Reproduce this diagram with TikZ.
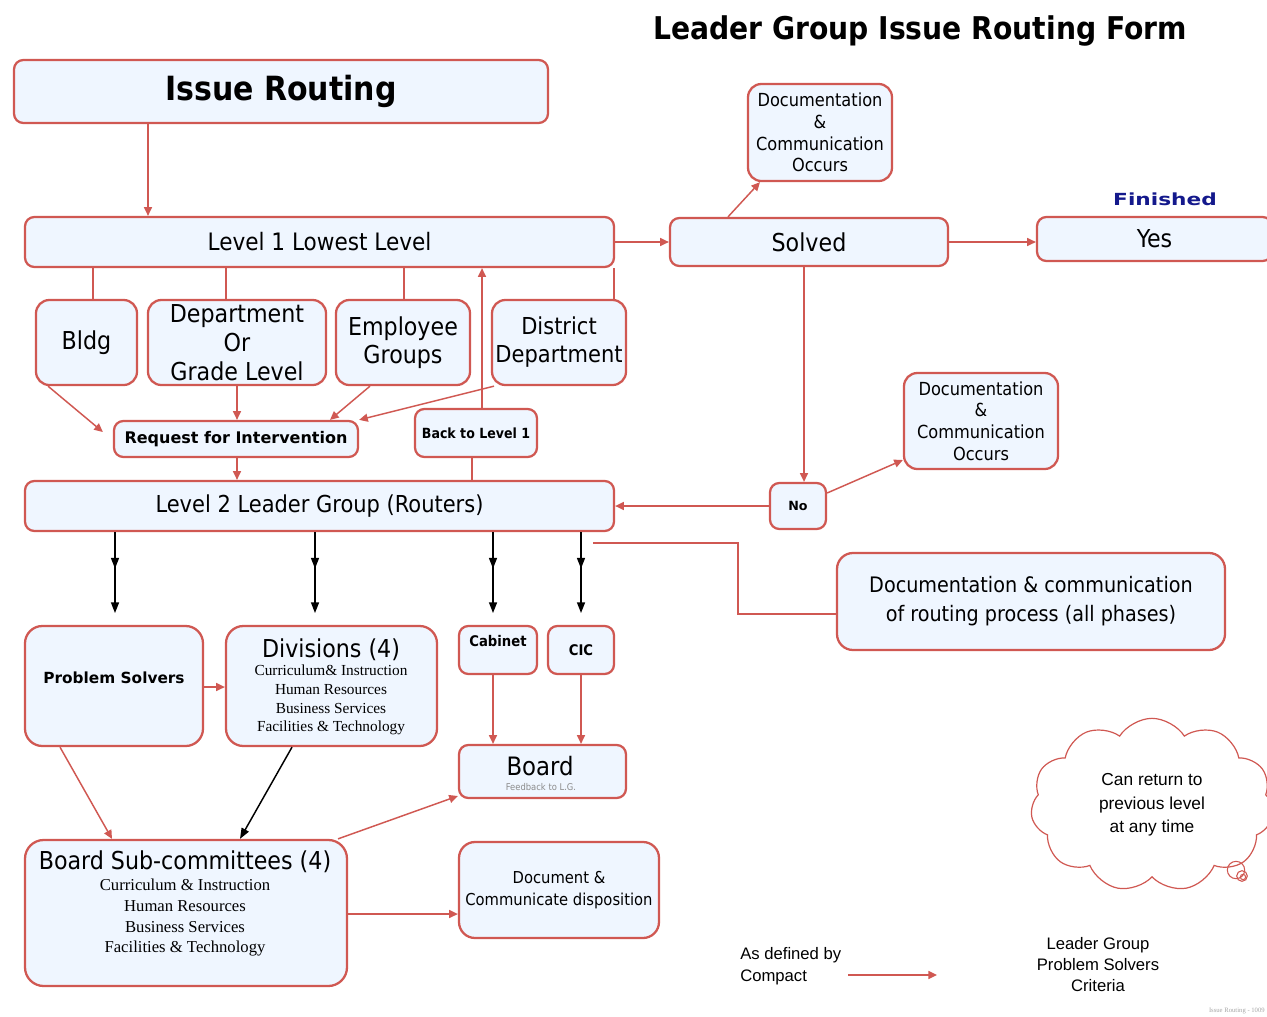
\documentclass[tikz,border=0pt]{standalone}
\usepackage{fontspec}
\usepackage{graphicx}
\usetikzlibrary{arrows.meta,shapes.symbols,decorations.markings,calc}
\setmainfont{DejaVu Sans Condensed}
\newfontfamily\dvs{DejaVu Sans}
\newfontfamily\lsans{Liberation Sans}
\newfontfamily\lserif{Liberation Serif}
\newcommand\fsz[2]{\fontsize{#1}{#2}\selectfont}
% \bx[options]{name}{x1}{y1}{x2}{y2}{text}
\newcommand\bx[7][]{\node[box,#1,minimum width={(#5-#3)*0.75pt},minimum height={(#6-#4)*0.75pt}] (#2) at ({(#3+#5)/2},{(#4+#6)/2}) {#7};}
\definecolor{bred}{RGB}{208,88,82}
\definecolor{bfill}{RGB}{239,246,255}
\definecolor{fin}{RGB}{20,25,140}
\begin{document}
\begin{tikzpicture}[x=0.75pt,y=-0.75pt,
 box/.style={draw=bred, fill=bfill, line width=1.7pt, rounded corners=7pt, inner sep=0pt, align=center},
 txt/.style={inner sep=0pt, align=center},
 con/.style={draw=bred, line width=1.1pt, -{Triangle[length=6.5pt,width=6pt]}},
 lnk/.style={draw=bred, line width=1.1pt},
 blk/.style={draw=black, line width=1.1pt, -{Triangle[length=8pt,width=6pt]},
   postaction={decorate},
   decoration={markings, mark=at position 0.45 with {\arrow{Triangle[length=8pt,width=6pt]}}}}]
\useasboundingbox (0,0) rectangle (1267,1017);
\fill[white] (0,0) rectangle (1267,1017);
\clip (0,0) rectangle (1267,1017);

% title
\node[txt, font=\bfseries\fsz{23.5}{28}] (title) at (920,31) {Leader Group Issue Routing Form};
\node[txt, font=\dvs\bfseries\fsz{12.5}{14}, text=fin] (fin) at (1165,199) {\scalebox{1.3}[1]{Finished}};

% boxes
\bx[font=\bfseries\fsz{25}{30}]{ir}{14}{60}{548}{123}{Issue Routing}
\bx[font=\fsz{18}{22}]{l1}{25}{217}{614}{267}{Level 1 Lowest Level}
\bx[font=\fsz{18.5}{22}]{solved}{670}{218}{948}{266}{Solved}
\bx[font=\fsz{18.5}{22}]{yes}{1037}{217}{1272}{261}{Yes}
\bx[rounded corners=10pt, font=\fsz{13.5}{16.3}]{doc1}{748}{84}{892}{181}{Documentation\\\&\\Communication\\Occurs}
\bx[rounded corners=10pt, font=\fsz{18.5}{22}]{bldg}{36}{300}{137}{385}{Bldg}
\bx[rounded corners=10pt, font=\fsz{18.5}{21.75}]{dept}{148}{300}{326}{385}{Department\\Or\\Grade Level}
\bx[rounded corners=10pt, font=\fsz{18.5}{21}]{emp}{336}{300}{470}{385}{Employee\\Groups}
\bx[rounded corners=10pt, font=\fsz{17.5}{21}]{dist}{492}{300}{626}{385}{District\\Department}
\bx[font=\dvs\bfseries\fsz{12}{14}]{req}{114}{421}{358}{457}{Request for Intervention}
\bx[font=\bfseries\fsz{10.5}{12}]{back}{415}{409}{537}{457}{Back to Level 1}
\bx[font=\fsz{17.5}{22}]{l2}{25}{481}{614}{531}{Level 2 Leader Group (Routers)}
\bx[font=\dvs\bfseries\fsz{9.5}{11}]{no}{770}{483}{826}{529}{No}
\bx[rounded corners=10pt, font=\fsz{13.5}{16.3}]{doc2}{904}{373}{1058}{469}{Documentation\\\&\\Communication\\Occurs}
\bx[rounded corners=12pt, font=\fsz{16}{21.75}]{docr}{837}{553}{1225}{650}{Documentation \& communication\\of routing process (all phases)}
\bx[rounded corners=13pt]{ps}{25}{626}{203}{746}{}
\node[txt, font=\dvs\bfseries\fsz{11.5}{14}] (pst) at (114,678) {Problem Solvers};
\bx[rounded corners=13pt]{div}{226}{626}{437}{746}{}
\node[txt, font=\fsz{18.5}{22}] (divt) at (331,650) {Divisions (4)};
\node[txt, font=\lserif\fsz{11.5}{14}] (divl) at (331,700) {Curriculum\& Instruction\\Human Resources\\Business Services\\Facilities \& Technology};
\bx{cab}{459}{626}{537}{674}{}
\node[txt, font=\bfseries\fsz{11}{13}] (cabt) at (498,641) {Cabinet};
\bx[font=\bfseries\fsz{11}{13}]{cic}{548}{626}{614}{674}{CIC}
\bx{board}{459}{745}{626}{798}{}
\node[txt, font=\fsz{19}{22}] (boardt) at (540,766) {Board};
\node[txt, font=\fsz{7}{8}, text=black!45] (boardf) at (541,787) {Feedback to L.G.};
\bx[rounded corners=14pt]{sub}{25}{840}{347}{986}{}
\node[txt, font=\fsz{18.5}{22}] (subt) at (185,862) {Board Sub-committees (4)};
\node[txt, font=\lserif\fsz{12.5}{15.5}] (subl) at (185,918) {Curriculum \& Instruction\\Human Resources\\Business Services\\Facilities \& Technology};
\bx[rounded corners=12pt, font=\fsz{12.3}{16.5}]{dd}{459}{842}{659}{938}{Document \&\\Communicate disposition}

% cloud
\node[cloud, cloud puffs=11, cloud puff arc=115, cloud ignores aspect, draw=bred, line width=0.9pt,
  minimum width=182pt, minimum height=130pt, align=center, font=\lsans\fsz{13}{17.6}] (cloud) at (1152,805)
  {Can return to\\previous level\\at any time};
\node[circle, draw=bred, line width=0.8pt, minimum size=13pt, inner sep=0pt] (b1) at (1236,870) {};
\node[circle, draw=bred, line width=0.8pt, minimum size=8pt, inner sep=0pt] (b2) at (1242,876) {};
\node[circle, draw=bred, line width=0.8pt, minimum size=4pt, inner sep=0pt] (b3) at (1243,877) {};

% legend
\node[txt, anchor=west, align=left, font=\lsans\fsz{12.5}{16.5}] (asdef) at (740,966) {As defined by\\Compact};
\node[txt, font=\lsans\fsz{12.5}{15.75}] (lgc) at (1098,965) {Leader Group\\Problem Solvers\\Criteria};
\coordinate (la1) at (848,975);
\coordinate (la2) at (937,975);
\draw[con] (la1) -- (la2);
\node[txt, anchor=east, font=\lserif\fsz{5}{6}, text=black!35] (foot) at (1265,1011) {Issue Routing - 1009};

% connectors
\draw[con] (ir.south -| 148,0) -- (l1.north -| 148,0);
\draw[lnk] (l1.south -| 93,0) -- (bldg.north -| 93,0);
\draw[lnk] (l1.south -| 226,0) -- (dept.north -| 226,0);
\draw[lnk] (l1.south -| 404,0) -- (emp.north -| 404,0);
\draw[lnk] (l1.south -| 614,0) -- (dist.north -| 614,0);
\draw[con] (bldg.south -| 48,0) -- ($(req.west)+(-10,-7)$);
\draw[con] (dept.south -| 237,0) -- (req.north -| 237,0);
\draw[con] (emp.south -| 370,0) -- (req.north -| 330,0);
\draw[con] (dist.south -| 494,0) -- (req.north east);
\draw[con] (back.north -| 482,0) -- (l1.south -| 482,0);
\draw[lnk] (back.south -| 472,0) -- (l2.north -| 472,0);
\draw[con] (req.south -| 237,0) -- (l2.north -| 237,0);
\draw[con] (l1.east) -- (solved.west |- l1.east);
\draw[con] (solved.east) -- (yes.west |- solved.east);
\draw[con] (solved.north -| 728,0) -- (doc1.south -| 760,0);
\draw[con] (solved.south -| 804,0) -- (no.north -| 804,0);
\draw[con] (no.west) -- (l2.east);
\draw[con] (no.east |- 0,493) -- (doc2.west |- 0,460);

\coordinate (t1) at (115,613);
\coordinate (t2) at (315,613);
\coordinate (t3) at (493,613);
\coordinate (t4) at (581,613);
\draw[blk] (l2.south -| t1) -- (t1);
\draw[blk] (l2.south -| t2) -- (t2);
\draw[blk] (l2.south -| t3) -- (t3);
\draw[blk] (l2.south -| t4) -- (t4);

\coordinate (rs) at (593,543);
\draw[lnk] (rs) -| (738,614) -- (docr.west |- 0,614);

\draw[con] (ps.east |- 0,687) -- (div.west |- 0,687);
\draw[con] (cab.south -| 493,0) -- (board.north -| 493,0);
\draw[con] (cic.south -| 581,0) -- (board.north -| 581,0);
\draw[con] (ps.south -| 60,0) -- (sub.north -| 112,0);
\draw[draw=black, line width=1.1pt, -{Triangle[length=8pt,width=6pt]}] (div.south -| 292,0) -- (sub.north -| 240,0);
\draw[con] (sub.north -| 338,0) -- (board.west |- 0,796);
\draw[con] (sub.east |- 0,914) -- (dd.west |- 0,914);
\end{tikzpicture}
\end{document}
